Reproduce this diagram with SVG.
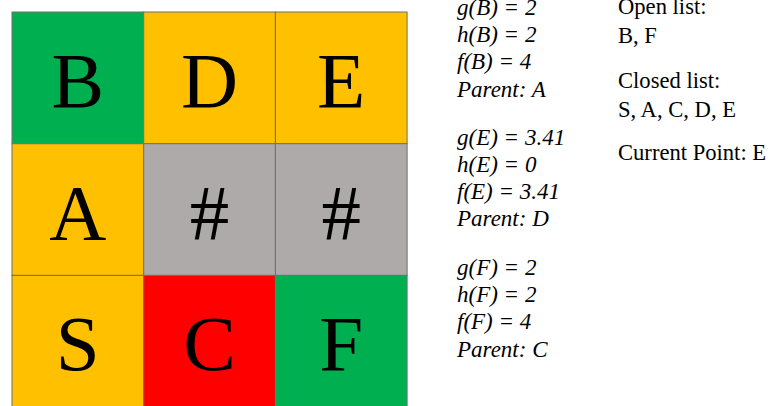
<svg xmlns="http://www.w3.org/2000/svg" width="772" height="406" viewBox="0 0 772 406">
<style>
.cell{stroke:#6f6f6f;stroke-width:1}
.g{fill:#00B050}.y{fill:#FFC000}.x{fill:#AEAAAA}.r{fill:#FF0000}
.big{font-family:"Liberation Serif",serif;font-size:79px;fill:#000;text-anchor:middle}
.it{font-family:"Liberation Serif",serif;font-style:italic;font-size:23px;fill:#000}
.rm{font-family:"Liberation Serif",serif;font-size:22.6px;fill:#000}
</style>
<rect width="772" height="406" fill="#fff"/>
<g id="cell-B"><rect class="cell g" x="12" y="12" width="131.7" height="131.7"/><text class="big" x="77.8" y="107">B</text></g>
<g id="cell-D"><rect class="cell y" x="143.7" y="12" width="131.7" height="131.7"/><text class="big" x="209.5" y="107">D</text></g>
<g id="cell-E"><rect class="cell y" x="275.4" y="12" width="131.7" height="131.7"/><text class="big" x="341.2" y="107">E</text></g>
<g id="cell-A"><rect class="cell y" x="12" y="143.7" width="131.7" height="131.7"/><text class="big" x="77.8" y="238.7">A</text></g>
<g id="cell-wall1"><rect class="cell x" x="143.7" y="143.7" width="131.7" height="131.7"/><text class="big" x="209.5" y="238.7">#</text></g>
<g id="cell-wall2"><rect class="cell x" x="275.4" y="143.7" width="131.7" height="131.7"/><text class="big" x="341.2" y="238.7">#</text></g>
<g id="cell-S"><rect class="cell y" x="12" y="275.4" width="131.7" height="131.7"/><text class="big" x="77.8" y="370.4">S</text></g>
<g id="cell-C"><rect class="cell r" x="143.7" y="275.4" width="131.7" height="131.7"/><text class="big" x="209.5" y="370.4">C</text></g>
<g id="cell-F"><rect class="cell g" x="275.4" y="275.4" width="131.7" height="131.7"/><text class="big" x="341.2" y="370.4">F</text></g>
<g id="info-B">
<text class="it" x="457" y="15">g(B) = 2</text>
<text class="it" x="457" y="42">h(B) = 2</text>
<text class="it" x="457" y="69">f(B) = 4</text>
<text class="it" x="457" y="97">Parent: A</text>
</g>
<g id="info-E">
<text class="it" x="457" y="145">g(E) = 3.41</text>
<text class="it" x="457" y="172">h(E) = 0</text>
<text class="it" x="457" y="199">f(E) = 3.41</text>
<text class="it" x="457" y="226">Parent: D</text>
</g>
<g id="info-F">
<text class="it" x="457" y="275">g(F) = 2</text>
<text class="it" x="457" y="302">h(F) = 2</text>
<text class="it" x="457" y="329">f(F) = 4</text>
<text class="it" x="457" y="357">Parent: C</text>
</g>
<g id="lists">
<text class="rm" x="618" y="14">Open list:</text>
<text class="rm" x="618" y="43">B, F</text>
<text class="rm" x="618" y="88">Closed list:</text>
<text class="rm" x="618" y="117">S, A, C, D, E</text>
<text class="rm" x="618" y="160">Current Point: E</text>
</g>
<g id="connectors"/>
</svg>
